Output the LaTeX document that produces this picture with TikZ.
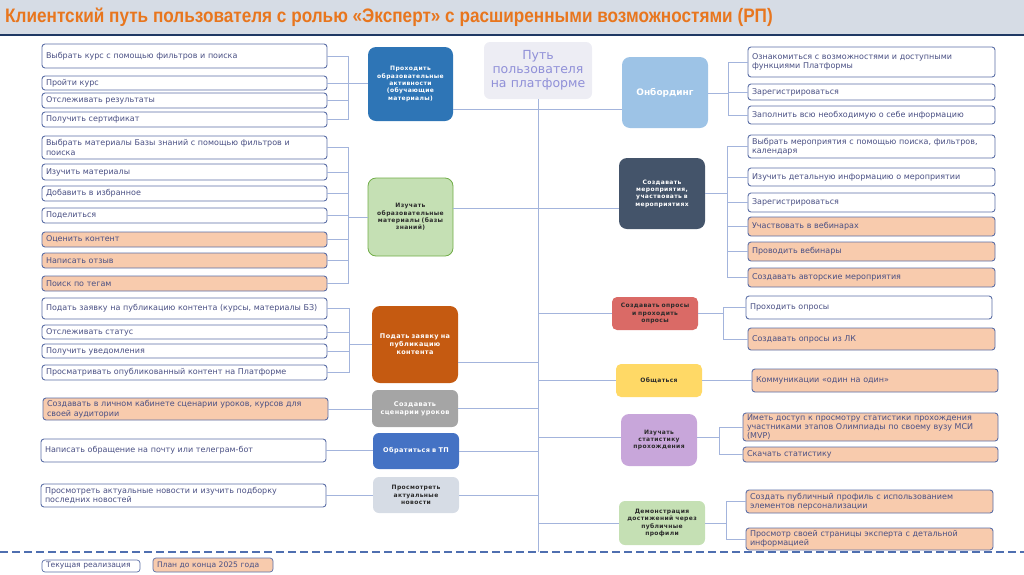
\documentclass[tikz,border=0pt]{standalone}
\usepackage{fontspec}
\setmainfont{DejaVu Sans}
\newfontfamily\titlefont[FakeStretch=0.88]{Liberation Sans}
\newfontfamily\hubfont[LetterSpace=6]{DejaVu Sans}
\definecolor{titlebg}{HTML}{D6DCE5}
\definecolor{titlenavy}{HTML}{1F3864}
\definecolor{titleor}{HTML}{E8761E}
\definecolor{boxborder}{HTML}{5B6EA6}
\definecolor{boxtext}{HTML}{4A5084}
\definecolor{planfill}{HTML}{F8CBAD}
\definecolor{connc}{HTML}{A3B4DC}
\definecolor{dashc}{HTML}{4F6FB0}
\definecolor{hOne}{HTML}{2E75B6}
\definecolor{hGreen}{HTML}{C5E0B4}
\definecolor{hGreenB}{HTML}{70AD47}
\definecolor{hBrown}{HTML}{C55A11}
\definecolor{hGray}{HTML}{A5A5A5}
\definecolor{hBlue}{HTML}{4472C4}
\definecolor{hLight}{HTML}{D6DCE5}
\definecolor{hSky}{HTML}{9DC3E6}
\definecolor{hSlate}{HTML}{44546A}
\definecolor{hRed}{HTML}{DA6A66}
\definecolor{hYellow}{HTML}{FFD966}
\definecolor{hPurple}{HTML}{C8A6DA}
\definecolor{pathfill}{HTML}{EDEDF4}
\definecolor{pathtext}{HTML}{9090D8}
\definecolor{darktext}{HTML}{2B2B2B}
\newcommand\mybox[7]{\pgfmathsetmacro\mytw{#4-8}%
  \node[#6, minimum width=#4pt, minimum height=#5pt, text width=\mytw pt] (#1) at ({#2+#4/2},{#3+#5/2}) {#7};}
\newcommand\myhub[7]{\pgfmathsetmacro\mytw{#4-6}%
  \node[hub, #6, minimum width=#4pt, minimum height=#5pt, text width=\mytw pt] (#1) at ({#2+#4/2},{#3+#5/2}) {#7};}
\begin{document}
\begin{tikzpicture}[x=1pt,y=-1pt,
  box/.style={draw=boxborder, line width=0.9pt, rounded corners=3pt, fill=white,
    font=\fontsize{8}{9.5}\selectfont, text=boxtext, align=left, inner xsep=4pt, inner ysep=0.5pt},
  plan/.style={box, fill=planfill},
  hub/.style={rounded corners=8pt, align=center, inner xsep=3pt, inner ysep=1pt,
    font=\hubfont\bfseries\fontsize{6}{7.4}\selectfont},
  conn/.style={draw=connc, line width=0.8pt}]
\useasboundingbox (0,0) rectangle (1024,574);
% title bar
\fill[titlebg] (0,0) rectangle (1024,34);
\draw[titlenavy, line width=2pt] (0,35) -- (1024,35);
\node[anchor=west, inner sep=0pt, text=titleor, font=\titlefont\bfseries\fontsize{19.5}{21}\selectfont] (title) at (5,17.5)
  {Клиентский путь пользователя с ролью «Эксперт» с расширенными возможностями (РП)};
% dashed separator
\draw[dashc, line width=1.2pt, dash pattern=on 8pt off 4pt] (0,552) -- (1024,552);

% centre
\node[fill=pathfill, rounded corners=6pt, minimum width=108pt, minimum height=57pt, text width=104pt, align=center,
  inner sep=1pt, text=pathtext, font=\fontsize{12.5}{14}\selectfont] (path) at (538,70.5) {Путь\\пользователя\\на платформе};
\coordinate (trunkend) at (538,552);
\draw[conn] (path.south) -- (trunkend);

% hubs
\myhub{hub1}{368}{47}{85}{74}{fill=hOne, text=white}{Проходить\\образовательные\\активности\\(обучающие\\материалы)}
\myhub{hub2}{368}{178}{85}{78}{fill=hGreen, draw=hGreenB, line width=0.8pt, text=darktext}{Изучать\\образовательные\\материалы (базы\\знаний)}
\myhub{hub3}{372}{306}{86}{77}{fill=hBrown, text=white, font=\hubfont\bfseries\fontsize{6.5}{8}\selectfont}{Подать заявку на\\публикацию\\контента}
\myhub{hub4}{372}{390}{86}{37}{fill=hGray, text=white, rounded corners=6pt, font=\hubfont\bfseries\fontsize{6.5}{8}\selectfont}{Создавать\\сценарии уроков}
\myhub{hub5}{373}{433}{86}{36}{fill=hBlue, text=white, rounded corners=6pt, font=\hubfont\bfseries\fontsize{6.5}{8}\selectfont}{Обратиться в ТП}
\myhub{hub6}{373}{477}{86}{36}{fill=hLight, text=darktext, rounded corners=6pt}{Просмотреть\\актуальные\\новости}
\myhub{onb}{622}{57}{86}{71}{fill=hSky, text=white, font=\fontsize{9}{11}\selectfont\bfseries}{Онбординг}
\myhub{mer}{619}{158}{86}{71}{fill=hSlate, text=white}{Создавать\\мероприятия,\\участвовать в\\мероприятиях}
\myhub{opr}{612}{297}{86}{33}{fill=hRed, text=darktext, rounded corners=5pt}{Создавать опросы\\и проходить\\опросы}
\myhub{obsh}{616}{364}{86}{33}{fill=hYellow, text=darktext, rounded corners=5pt}{Общаться}
\myhub{stat}{621}{414}{76}{52}{fill=hPurple, text=darktext}{Изучать\\статистику\\прохождения}
\myhub{dem}{619}{501}{86}{44}{fill=hGreen, text=darktext, rounded corners=6pt}{Демонстрация\\достижений через\\публичные\\профили}

% left boxes
\mybox{l1}{42}{44}{285}{24}{box}{Выбрать курс с помощью фильтров и поиска}
\mybox{l2}{42}{76}{285}{14}{box}{Пройти курс}
\mybox{l3}{42}{93}{285}{15}{box}{Отслеживать результаты}
\mybox{l4}{42}{112}{285}{15}{box}{Получить сертификат}
\mybox{l5}{42}{136}{285}{23}{box}{Выбрать материалы Базы знаний с помощью фильтров и\\поиска}
\mybox{l6}{42}{164}{285}{16}{box}{Изучить материалы}
\mybox{l7}{42}{186}{285}{15}{box}{Добавить в избранное}
\mybox{l8}{42}{208}{285}{15}{box}{Поделиться}
\mybox{l9}{42}{232}{285}{15}{plan}{Оценить контент}
\mybox{l10}{42}{253}{285}{15}{plan}{Написать отзыв}
\mybox{l11}{42}{276}{285}{15}{plan}{Поиск по тегам}
\mybox{l12}{42}{298}{285}{21}{box}{Подать заявку на публикацию контента (курсы, материалы БЗ)}
\mybox{l13}{42}{325}{285}{14}{box}{Отслеживать статус}
\mybox{l14}{42}{344}{285}{14}{box}{Получить уведомления}
\mybox{l15}{42}{365}{285}{15}{box}{Просматривать опубликованный контент на Платформе}
\mybox{l16}{43}{398}{285}{22}{plan}{Создавать в личном кабинете сценарии уроков, курсов для\\своей аудитории}
\mybox{l17}{41}{439}{285}{23}{box}{Написать обращение на почту или телеграм-бот}
\mybox{l18}{41}{484}{285}{23}{box}{Просмотреть актуальные новости и изучить подборку\\последних новостей}

% right boxes
\mybox{r1}{748}{47}{247}{30}{box}{Ознакомиться с возможностями и доступными\\функциями Платформы}
\mybox{r2}{748}{84}{247}{16}{box}{Зарегистрироваться}
\mybox{r3}{748}{106}{247}{18}{box}{Заполнить всю необходимую о себе информацию}
\mybox{r4}{748}{135}{247}{23}{box}{Выбрать мероприятия с помощью поиска, фильтров,\\календаря}
\mybox{r5}{748}{168}{247}{18}{box}{Изучить детальную информацию о мероприятии}
\mybox{r6}{748}{193}{247}{19}{box}{Зарегистрироваться}
\mybox{r7}{748}{217}{247}{19}{plan}{Участвовать в вебинарах}
\mybox{r8}{748}{242}{247}{19}{plan}{Проводить вебинары}
\mybox{r9}{748}{268}{247}{19}{plan}{Создавать авторские мероприятия}
\mybox{r10}{746}{296}{246}{23}{box}{Проходить опросы}
\mybox{r11}{748}{328}{247}{22}{plan}{Создавать опросы из ЛК}
\mybox{r12}{752}{369}{246}{23}{plan}{Коммуникации «один на один»}
\mybox{r13}{743}{413}{255}{28}{plan, font=\fontsize{8}{9}\selectfont}{Иметь доступ к просмотру статистики прохождения\\участниками этапов Олимпиады по своему вузу МСИ\\(MVP)}
\mybox{r14}{743}{447}{255}{15}{plan}{Скачать статистику}
\mybox{r15}{746}{490}{247}{23}{plan}{Создать публичный профиль с использованием\\элементов персонализации}
\mybox{r16}{746}{528}{247}{22}{plan}{Просмотр своей страницы эксперта с детальной\\информацией}

% legend
\mybox{lg1}{42}{560}{98}{12}{box, inner ysep=0pt, inner xsep=3pt, font=\fontsize{7.6}{8}\selectfont, line width=0.7pt}{Текущая реализация}
\mybox{lg2}{153}{558}{120}{14}{plan, inner xsep=3pt, font=\fontsize{7.6}{8}\selectfont, line width=0.7pt}{План до конца 2025 года}

% left brackets
\coordinate (b1) at (348,83);
\foreach \n in {l1,l2,l3,l4} \draw[conn] (\n.east) -| (b1);
\draw[conn] (b1) -- (b1 -| hub1.west);
\coordinate (b2) at (348,217);
\foreach \n in {l5,l6,l7,l8,l9,l10,l11} \draw[conn] (\n.east) -| (b2);
\draw[conn] (b2) -- (b2 -| hub2.west);
\coordinate (b3) at (349,344);
\foreach \n in {l12,l13,l14,l15} \draw[conn] (\n.east) -| (b3);
\draw[conn] (b3) -- (b3 -| hub3.west);
\draw[conn] (l16.east) -- (l16.east -| hub4.west);
\draw[conn] (l17.east) -- (l17.east -| hub5.west);
\draw[conn] (l18.east) -- (l18.east -| hub6.west);

% hubs to trunk
\draw[conn] (hub1.east |- 0,109) -- (onb.west |- 0,109);
\draw[conn] (hub2.east |- 0,208) -- (mer.west |- 0,208);
\draw[conn] (hub3.east |- 0,362) -- (path.south |- 0,362);
\draw[conn] (hub4.east) -- (hub4.east -| path.south);
\draw[conn] (hub5.east) -- (hub5.east -| path.south);
\draw[conn] (hub6.east) -- (hub6.east -| path.south);
\draw[conn] (path.south |- opr.west) -- (opr.west);
\draw[conn] (path.south |- obsh.west) -- (obsh.west);
\draw[conn] (path.south |- 0,437) -- (stat.west |- 0,437);
\draw[conn] (path.south |- dem.west) -- (dem.west);

% right brackets
\coordinate (rb1) at (728,93);
\draw[conn] (onb.east |- rb1) -- (rb1);
\foreach \n in {r1,r2,r3} \draw[conn] (rb1) |- (\n.west);
\coordinate (rb2) at (727,193);
\draw[conn] (mer.east |- rb2) -- (rb2);
\foreach \n in {r4,r5,r6,r7,r8,r9} \draw[conn] (rb2) |- (\n.west);
\coordinate (rb3) at (723,313);
\draw[conn] (opr.east |- rb3) -- (rb3);
\foreach \n in {r10,r11} \draw[conn] (rb3) |- (\n.west);
\draw[conn] (obsh.east) -- (obsh.east -| r12.west);
\coordinate (rb4) at (719,437);
\draw[conn] (stat.east |- rb4) -- (rb4);
\foreach \n in {r13,r14} \draw[conn] (rb4) |- (\n.west);
\coordinate (rb5) at (726,523);
\draw[conn] (dem.east |- rb5) -- (rb5);
\foreach \n in {r15,r16} \draw[conn] (rb5) |- (\n.west);
\end{tikzpicture}
\end{document}
